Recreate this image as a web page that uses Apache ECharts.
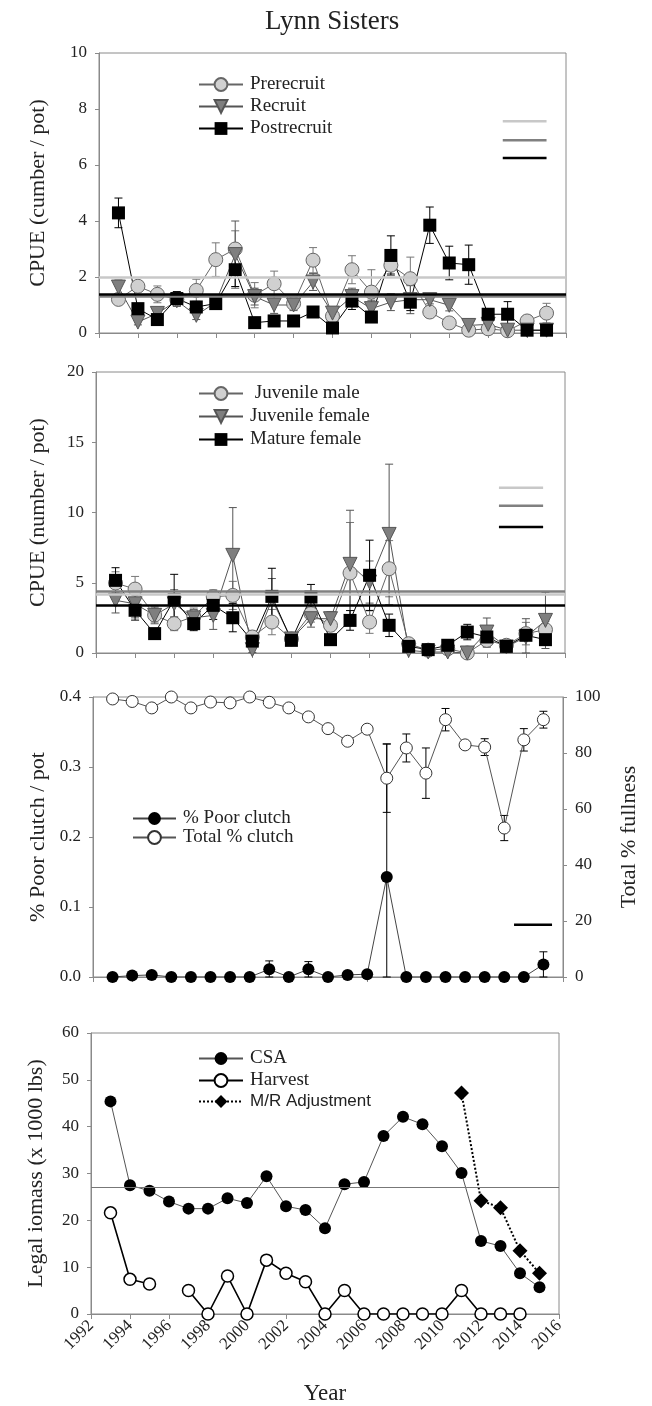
<!DOCTYPE html>
<html><head><meta charset="utf-8">
<script src="https://cdn.jsdelivr.net/npm/echarts@6/dist/echarts.min.js"></script>
<style>html,body{margin:0;padding:0;background:#fff}#c{width:652px;height:1406px}</style>
</head><body><div id="c"></div>
<script>
const years = [1993,1994,1995,1996,1997,1998,1999,2000,2001,2002,2003,2004,2005,2006,2007,2008,2009,2010,2011,2012,2013,2014,2015];
const xTicks = [1992,1994,1996,1998,2000,2002,2004,2006,2008,2010,2012,2014,2016];

// Panel 1: CPUE (cumber / pot)
const preRecruit   = [1.2,1.67,1.38,1.2,1.52,2.62,3.0,1.35,1.76,1.05,2.6,0.6,2.26,1.46,2.42,1.94,0.75,0.36,0.1,0.15,0.08,0.43,0.71];
const preRecruitSE = [0.15,0.1,0.3,0.2,0.4,0.6,0.65,0.45,0.45,0.1,0.45,0.1,0.5,0.8,0.3,0.77,0.2,0.1,0.1,0.05,0.05,0.2,0.35];
const recruit      = [1.64,0.39,0.7,1.15,0.63,1.1,2.8,1.3,1.0,1.0,1.82,0.71,1.3,0.87,1.1,1.19,1.19,0.99,0.27,0.31,0.1,0.1,0.1];
const recruitSE    = [0.25,0.1,0.15,0.2,0.15,0.2,1.2,0.3,0.3,0.2,0.3,0.2,0.3,0.3,0.3,0.5,0.15,0.2,0.1,0.1,0.05,0.05,0.05];
const postRecruit  = [4.29,0.87,0.48,1.23,0.93,1.05,2.26,0.37,0.43,0.43,0.75,0.18,1.14,0.57,2.77,1.1,3.85,2.5,2.44,0.67,0.67,0.1,0.1];
const postRecruitSE= [0.53,0.15,0.15,0.25,0.2,0.2,0.6,0.1,0.1,0.1,0.1,0.1,0.3,0.15,0.7,0.3,0.65,0.6,0.7,0.15,0.45,0.05,0.05];
const ref1 = [2.0, 1.3, 1.4]; // light, grey, black
const key1 = [7.56, 6.88, 6.25];

// Panel 2: CPUE (number / pot)
const juvMale     = [4.98,4.55,2.7,2.09,2.6,4.0,4.1,1.14,2.2,1.0,2.8,1.97,5.69,2.2,6.0,0.66,0.2,0.3,0.0,0.9,0.55,1.38,1.66];
const juvMaleSE   = [0.8,0.9,0.5,0.5,0.6,0.5,1.0,0.3,0.9,0.2,0.6,0.4,3.6,0.8,2.0,0.2,0.1,0.1,0.05,0.5,0.3,0.8,0.6];
const juvFemale   = [3.75,3.5,2.68,3.5,2.5,2.68,6.95,0.24,3.8,1.0,2.44,2.44,6.31,5.05,8.44,0.19,0.07,0.07,0.0,1.49,0.43,1.14,2.32];
const juvFemaleSE = [0.9,1.0,0.6,1.0,0.6,1.0,3.4,0.2,1.5,0.2,0.6,0.5,3.85,1.5,5.0,0.1,0.05,0.05,0.05,1.0,0.3,1.3,2.0];
const matFemale   = [5.17,3.04,1.38,3.8,2.09,3.39,2.51,0.85,4.03,0.9,3.98,0.95,2.32,5.53,1.97,0.47,0.24,0.55,1.49,1.14,0.47,1.26,0.95];
const matFemaleSE = [0.9,0.7,0.3,1.8,0.5,1.0,1.0,0.3,2.0,0.2,0.9,0.3,0.7,2.5,0.8,0.1,0.1,0.2,0.55,0.6,0.4,0.3,0.3];
const ref2 = [4.2, 4.4, 3.4];
const key2 = [11.77, 10.48, 8.97];

// Panel 3: clutch
const poorClutch    = [0,0.002,0.003,0,0,0,0,0,0.011,0,0.011,0,0.003,0.004,0.143,0,0,0,0,0,0,0,0.018];
const poorClutchSE  = [0,0,0,0,0,0,0,0,0.012,0,0.011,0,0,0.002,0.19,0,0,0,0,0,0,0,0.018];
const totalClutch   = [99.3,98.4,96.1,100,96.1,98.2,97.9,100,98.1,96.1,92.9,88.7,84.2,88.5,71.0,81.8,72.8,91.9,82.9,82.1,53.2,84.7,91.9];
const totalClutchSE = [0,0,0,0,0,0,1.5,0,0,0,0,0,0,0,12.2,5,9,4,0,3,4.5,4,3];
const key3 = [18.7];

// Panel 4: legal biomass
const csa     = [45.4,27.5,26.3,24.0,22.5,22.5,24.7,23.7,29.4,23.0,22.2,18.3,27.7,28.2,38.0,42.1,40.5,35.8,30.1,15.6,14.5,8.7,5.7];
const harvest = [21.6,7.4,6.4,null,5.0,0,8.1,0,11.5,8.7,6.9,0,5.0,0,0,0,0,0,5.0,0,0,0,null];
const mrAdj   = [null,null,null,null,null,null,null,null,null,null,null,null,null,null,null,null,null,null,47.2,24.2,22.7,13.5,8.7];
const csaRef  = 27.0;

const SERIF = 'Liberation Serif';
const TXT = '#222';
const AX = '#8a8a8a';

function pairs(v){ return years.map((y,i)=>[y, v[i]]); }
function errData(v, se){
  const out=[];
  years.forEach((y,i)=>{ if(v[i]!=null && se[i]>0) out.push([y, Math.max(0, v[i]-se[i]), v[i]+se[i]]); });
  return out;
}
function errSeries(v, se, color, xi, yi){
  return {
    type:'custom', xAxisIndex:xi, yAxisIndex:yi, z:1, silent:true,
    data: errData(v, se),
    renderItem: function(params, api){
      const x=api.value(0), lo=api.value(1), hi=api.value(2);
      const a=api.coord([x,hi]), b=api.coord([x,lo]);
      const w=4, st={stroke:color, lineWidth:1};
      return {type:'group', children:[
        {type:'line', shape:{x1:a[0],y1:a[1],x2:b[0],y2:b[1]}, style:st},
        {type:'line', shape:{x1:a[0]-w,y1:a[1],x2:a[0]+w,y2:a[1]}, style:st},
        {type:'line', shape:{x1:b[0]-w,y1:b[1],x2:b[0]+w,y2:b[1]}, style:st}
      ]};
    }
  };
}
function keyLine(x0, x1, y, color, xi, yi){
  return {type:'line', xAxisIndex:xi, yAxisIndex:yi, data:[[x0,y],[x1,y]], showSymbol:false, symbol:'none',
    silent:true, lineStyle:{color:color, width:2.5}, z:3};
}

const grids = [
  {left:99, top:53, width:467, height:280},
  {left:96, top:372, width:469, height:281},
  {left:93, top:697, width:470, height:280},
  {left:91, top:1033, width:468, height:281}
].map(g=>Object.assign({show:true, borderColor:AX, borderWidth:1, backgroundColor:'transparent'}, g));

function xAx(i, labels){
  return {type:'value', gridIndex:i, min:xTicks[0], max:xTicks[xTicks.length-1], interval:2,
    axisLine:{show:true, onZero:false, lineStyle:{color:AX}},
    axisTick:{show:true, inside:false, length:5, lineStyle:{color:AX}},
    splitLine:{show:false},
    axisLabel: labels ? {show:true, rotate:45, fontFamily:SERIF, fontSize:17, color:TXT, margin:9, formatter:v=>String(v)} : {show:false},
    name: labels ? 'Year' : '', nameLocation:'middle', nameGap:68,
    nameTextStyle:{fontFamily:SERIF, fontSize:23, color:TXT}
  };
}
function yAx(i, min, max, interval, name, gap, opts){
  return Object.assign({type:'value', gridIndex:i, min:min, max:max, interval:interval,
    axisLine:{show:true, lineStyle:{color:AX}},
    axisTick:{show:true, inside:false, length:4, lineStyle:{color:AX}},
    splitLine:{show:false},
    axisLabel:{fontFamily:SERIF, fontSize:17, color:TXT, margin:12},
    name:name, nameLocation:'middle', nameGap:gap,
    nameTextStyle:{fontFamily:SERIF, fontSize:22, color:TXT}
  }, opts||{});
}

const legendBase = {orient:'vertical', itemWidth:44, itemHeight:16, itemGap:3,
  textStyle:{fontFamily:SERIF, fontSize:19, lineHeight:16, color:TXT, padding:[0,0,0,2]}};

const lightFill='#d0d0d0', greyFill='#7f7f7f';

const option = {
  animation:false,
  backgroundColor:'#fff',
  title:{text:'Lynn Sisters', left:260, top:3, textStyle:{fontFamily:SERIF, fontSize:27, fontWeight:'normal', color:TXT}},
  grid: grids,
  xAxis:[xAx(0,false), xAx(1,false), xAx(2,false), xAx(3,true)],
  yAxis:[
    yAx(0,0,10,2,'CPUE (cumber / pot)',50),
    yAx(1,0,20,5,'CPUE (number / pot)',47),
    yAx(2,0,0.4,0.1,'% Poor clutch / pot',42,{axisLabel:{fontFamily:SERIF, fontSize:17, color:TXT, margin:12, formatter:v=>v.toFixed(1)}}),
    yAx(2,0,100,20,'Total % fullness',55,{position:'right'}),
    yAx(3,0,60,10,'Legal iomass (x 1000 lbs)',44)
  ],
  legend:[
    Object.assign({}, legendBase, {left:193, top:70, data:['Prerecruit','Recruit','Postrecruit']}),
    Object.assign({}, legendBase, {left:193, top:379, itemGap:4, data:[' Juvenile male','Juvenile female','Mature female']}),
    Object.assign({}, legendBase, {left:127, top:804, itemWidth:43, itemGap:0, data:['% Poor clutch','Total % clutch']}),
    Object.assign({}, legendBase, {left:193, top:1044, data:['CSA','Harvest',{name:'M/R Adjustment', textStyle:{fontFamily:'Liberation Sans', fontSize:17, lineHeight:16, color:TXT}}]})
  ],
  series:[
    // Panel 1
    errSeries(preRecruit, preRecruitSE, '#777', 0, 0),
    errSeries(recruit, recruitSE, '#555', 0, 0),
    errSeries(postRecruit, postRecruitSE, '#000', 0, 0),
    {name:'Prerecruit', type:'line', xAxisIndex:0, yAxisIndex:0, data:pairs(preRecruit), symbol:'circle', symbolSize:14, z:2,
      lineStyle:{color:'#666', width:1}, itemStyle:{color:lightFill, borderColor:'#666', borderWidth:1},
      markLine:{silent:true, symbol:'none', label:{show:false}, data:[
        {yAxis:ref1[0], lineStyle:{color:'#c8c8c8', width:2.5, type:'solid'}},
        {yAxis:ref1[1], lineStyle:{color:'#808080', width:2.5, type:'solid'}},
        {yAxis:ref1[2], lineStyle:{color:'#000', width:2.5, type:'solid'}}]}},
    {name:'Recruit', type:'line', xAxisIndex:0, yAxisIndex:0, data:pairs(recruit), symbol:'triangle', symbolRotate:180, symbolSize:14, z:2,
      lineStyle:{color:'#555', width:1}, itemStyle:{color:greyFill, borderColor:'#555', borderWidth:1}},
    {name:'Postrecruit', type:'line', xAxisIndex:0, yAxisIndex:0, data:pairs(postRecruit), symbol:'rect', symbolSize:13, z:2,
      lineStyle:{color:'#000', width:1}, itemStyle:{color:'#000'}},
    keyLine(2012.75, 2015.0, key1[0], '#c8c8c8', 0, 0),
    keyLine(2012.75, 2015.0, key1[1], '#808080', 0, 0),
    keyLine(2012.75, 2015.0, key1[2], '#000', 0, 0),

    // Panel 2
    errSeries(juvMale, juvMaleSE, '#777', 1, 1),
    errSeries(juvFemale, juvFemaleSE, '#555', 1, 1),
    errSeries(matFemale, matFemaleSE, '#000', 1, 1),
    {name:' Juvenile male', type:'line', xAxisIndex:1, yAxisIndex:1, data:pairs(juvMale), symbol:'circle', symbolSize:14, z:2,
      lineStyle:{color:'#666', width:1}, itemStyle:{color:lightFill, borderColor:'#666', borderWidth:1},
      markLine:{silent:true, symbol:'none', label:{show:false}, data:[
        {yAxis:ref2[0], lineStyle:{color:'#c8c8c8', width:2.5, type:'solid'}},
        {yAxis:ref2[1], lineStyle:{color:'#808080', width:2.5, type:'solid'}},
        {yAxis:ref2[2], lineStyle:{color:'#000', width:2.5, type:'solid'}}]}},
    {name:'Juvenile female', type:'line', xAxisIndex:1, yAxisIndex:1, data:pairs(juvFemale), symbol:'triangle', symbolRotate:180, symbolSize:14, z:2,
      lineStyle:{color:'#555', width:1}, itemStyle:{color:greyFill, borderColor:'#555', borderWidth:1}},
    {name:'Mature female', type:'line', xAxisIndex:1, yAxisIndex:1, data:pairs(matFemale), symbol:'rect', symbolSize:13, z:2,
      lineStyle:{color:'#000', width:1}, itemStyle:{color:'#000'}},
    keyLine(2012.62, 2014.88, key2[0], '#c8c8c8', 1, 1),
    keyLine(2012.62, 2014.88, key2[1], '#808080', 1, 1),
    keyLine(2012.62, 2014.88, key2[2], '#000', 1, 1),

    // Panel 3
    errSeries(poorClutch, poorClutchSE, '#000', 2, 2),
    errSeries(totalClutch, totalClutchSE, '#000', 2, 3),
    {name:'% Poor clutch', type:'line', xAxisIndex:2, yAxisIndex:2, data:pairs(poorClutch), symbol:'circle', symbolSize:12, z:2,
      lineStyle:{color:'#444', width:1}, itemStyle:{color:'#000'}},
    {name:'Total % clutch', type:'line', xAxisIndex:2, yAxisIndex:3, data:pairs(totalClutch), symbol:'circle', symbolSize:12, z:2,
      lineStyle:{color:'#555', width:1}, itemStyle:{color:'#fff', borderColor:'#333', borderWidth:1}},
    keyLine(2013.5, 2015.44, key3[0], '#000', 2, 3),

    // Panel 4
    {name:'CSA', type:'line', xAxisIndex:3, yAxisIndex:4, data:pairs(csa), symbol:'circle', symbolSize:12, z:2,
      lineStyle:{color:'#555', width:1}, itemStyle:{color:'#000'},
      markLine:{silent:true, symbol:'none', label:{show:false}, data:[{yAxis:csaRef, lineStyle:{color:'#777', width:1, type:'solid'}}]}},
    {name:'Harvest', type:'line', xAxisIndex:3, yAxisIndex:4, data:pairs(harvest), symbol:'circle', symbolSize:12, z:2, connectNulls:false,
      lineStyle:{color:'#000', width:1.6}, itemStyle:{color:'#fff', borderColor:'#000', borderWidth:1.5}},
    {name:'M/R Adjustment', type:'line', xAxisIndex:3, yAxisIndex:4, data:pairs(mrAdj), symbol:'diamond', symbolSize:15, z:2,
      lineStyle:{color:'#000', width:2, type:'dotted'}, itemStyle:{color:'#000'}}
  ]
};
const chart = echarts.init(document.getElementById('c'), null, {renderer:'canvas'});
chart.setOption(option);
</script></body></html>
